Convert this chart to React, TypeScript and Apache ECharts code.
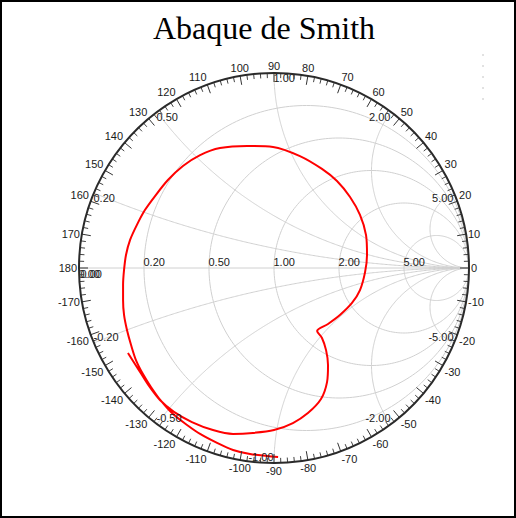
import React, { useEffect, useRef } from "react";
import * as echarts from "echarts";

// Normalised resistance circles and reactance arcs of the impedance grid
const resistanceCircles = [0.2, 0.5, 1, 2, 5];
const reactanceArcs = [0.2, 0.5, 1, 2, 5];

// Measured reflection coefficient (S11) along the frequency sweep
const s11Re = [
  0.021, -0.036, -0.123, -0.21, -0.292, -0.379, -0.446, -0.518, -0.579, -0.631,
  -0.672, -0.708, -0.733, -0.754, -0.769, -0.774, -0.774, -0.769, -0.759, -0.738,
  -0.703, -0.662, -0.61, -0.544, -0.467, -0.379, -0.277, -0.138, -0.005, 0.133,
  0.246, 0.323, 0.39, 0.441, 0.472, 0.477, 0.467, 0.441, 0.4, 0.338,
  0.277, 0.221, 0.246, 0.267, 0.277, 0.272, 0.241, 0.174, 0.097, 0.0,
  -0.108, -0.21, -0.313, -0.421, -0.513, -0.585, -0.641, -0.687, -0.723, -0.749,
];
const s11Im = [
  -0.969, -0.964, -0.954, -0.933, -0.897, -0.851, -0.805, -0.749, -0.682, -0.61,
  -0.544, -0.472, -0.395, -0.318, -0.241, -0.164, -0.087, -0.01, 0.067, 0.144,
  0.221, 0.297, 0.369, 0.451, 0.523, 0.579, 0.615, 0.626, 0.621, 0.574,
  0.508, 0.446, 0.364, 0.272, 0.169, 0.067, -0.021, -0.113, -0.179, -0.241,
  -0.287, -0.323, -0.359, -0.421, -0.497, -0.585, -0.672, -0.744, -0.795, -0.831,
  -0.846, -0.851, -0.831, -0.79, -0.738, -0.677, -0.605, -0.533, -0.477, -0.436,
];

const CX = 274;
const CY = 268;
const R = 195;
const GRID_COLOR = "#d0d0d0";
const TEXT_COLOR = "#1a1a1a";
const LABEL_FONT = "Liberation Sans";

// z = r + jx  ->  gamma = (z - 1) / (z + 1)
function gammaOf(r: number, x: number): [number, number] {
  const den = (r + 1) * (r + 1) + x * x;
  return [(r * r + x * x - 1) / den, (2 * x) / den];
}

function resistanceCircle(r: number): number[][] {
  const c = r / (1 + r);
  const rho = 1 / (1 + r);
  const pts: number[][] = [];
  for (let i = 0; i <= 240; i++) {
    const a = (i / 240) * Math.PI * 2;
    pts.push([c + rho * Math.cos(a), rho * Math.sin(a)]);
  }
  return pts;
}

function reactanceArc(x: number): number[][] {
  const pts: number[][] = [];
  for (let i = 0; i < 300; i++) {
    const u = i / 300;
    pts.push(gammaOf(u / (1 - u), x));
  }
  pts.push([1, 0]);
  return pts;
}

const gridLine = (data: number[][]) => ({
  type: "line",
  data,
  showSymbol: false,
  silent: true,
  z: 1,
  lineStyle: { color: GRID_COLOR, width: 1 },
});

function labelItem(
  name: string,
  pos: [number, number],
  align: string,
  verticalAlign: string,
  offset: number[] = [0, 0]
) {
  return {
    name,
    value: pos,
    label: { align, verticalAlign, offset },
  };
}

function buildLabels() {
  const items: any[] = [];
  resistanceCircles.forEach((r) => {
    items.push(labelItem(r.toFixed(2), gammaOf(r, 0), "left", "bottom"));
  });
  items.push(labelItem((0).toFixed(2), gammaOf(0, 0), "left", "top", [0, 1]));
  items.push(labelItem((0).toFixed(2), gammaOf(0, 0), "left", "top", [2, 1]));
  reactanceArcs.forEach((x) => {
    items.push(
      labelItem(x.toFixed(2), gammaOf(0, x), x <= 1 ? "left" : "right", "top")
    );
    items.push(
      labelItem((-x).toFixed(2), gammaOf(0, -x), x < 1 ? "left" : "right", "bottom")
    );
  });
  return items;
}

export default function App() {
  const ref = useRef<HTMLDivElement>(null);

  useEffect(() => {
    if (!ref.current) return;
    const chart = echarts.init(ref.current, undefined, { renderer: "svg" });

    const series: any[] = [];
    series.push(gridLine([[-1, 0], [1, 0]]));
    resistanceCircles.forEach((r) => series.push(gridLine(resistanceCircle(r))));
    reactanceArcs.forEach((x) => {
      series.push(gridLine(reactanceArc(x)));
      series.push(gridLine(reactanceArc(-x)));
    });

    series.push({
      type: "line",
      name: "S11",
      data: s11Re.map((v, i) => [v, s11Im[i]]),
      showSymbol: false,
      smooth: 0.3,
      z: 3,
      lineStyle: { color: "#ff0000", width: 2 },
    });

    series.push({
      type: "scatter",
      data: buildLabels(),
      symbolSize: 1,
      silent: true,
      z: 4,
      itemStyle: { color: "rgba(0,0,0,0)" },
      label: {
        show: true,
        position: [0, 0],
        formatter: "{b}",
        color: TEXT_COLOR,
        opacity: 1,
        textBorderWidth: 0,
        fontSize: 11,
        fontFamily: LABEL_FONT,
      },
    });

    chart.setOption({
      animation: false,
      backgroundColor: "#ffffff",
      grid: { left: CX - R, top: CY - R, width: 2 * R, height: 2 * R },
      xAxis: { type: "value", min: -1, max: 1, show: false },
      yAxis: { type: "value", min: -1, max: 1, show: false },
      polar: { center: [CX, CY], radius: R },
      radiusAxis: { type: "value", min: 0, max: 1, show: false },
      angleAxis: {
        type: "value",
        min: 0,
        max: 360,
        interval: 10,
        startAngle: 0,
        clockwise: false,
        z: 5,
        axisLine: { show: true, lineStyle: { color: "#2a2a2a", width: 2 } },
        axisTick: { show: true, inside: true, length: 9, lineStyle: { color: "#333", width: 1 } },
        minorTick: { show: true, splitNumber: 5, length: 5, lineStyle: { color: "#444", width: 1 } },
        splitLine: { show: false },
        axisLabel: {
          show: true,
          margin: 2,
          color: TEXT_COLOR,
          fontSize: 11,
          fontFamily: LABEL_FONT,
          formatter: (v: number) => (v === 360 ? "" : String(v > 180 ? v - 360 : v)),
        },
      },
      graphic: [
        {
          type: "text",
          x: 264,
          y: 28,
          style: {
            text: "Abaque de Smith",
            fontSize: 32,
            fontFamily: "Liberation Serif",
            fill: "#000",
            align: "center",
            verticalAlign: "middle",
          },
        },
        {
          type: "line",
          shape: { x1: 483, y1: 54, x2: 483, y2: 108 },
          style: { stroke: "#c4c4c4", lineWidth: 1, lineDash: [2, 9] },
        },
        {
          type: "rect",
          shape: { x: 1, y: 1, width: 514, height: 516 },
          style: { fill: "none", stroke: "#000", lineWidth: 2 },
          z: 10,
        },
      ],
      series,
    });

    return () => chart.dispose();
  }, []);

  return (
    <div
      ref={ref}
      style={{ position: "fixed", left: 0, top: 0, width: 516, height: 518, background: "#fff" }}
    />
  );
}
